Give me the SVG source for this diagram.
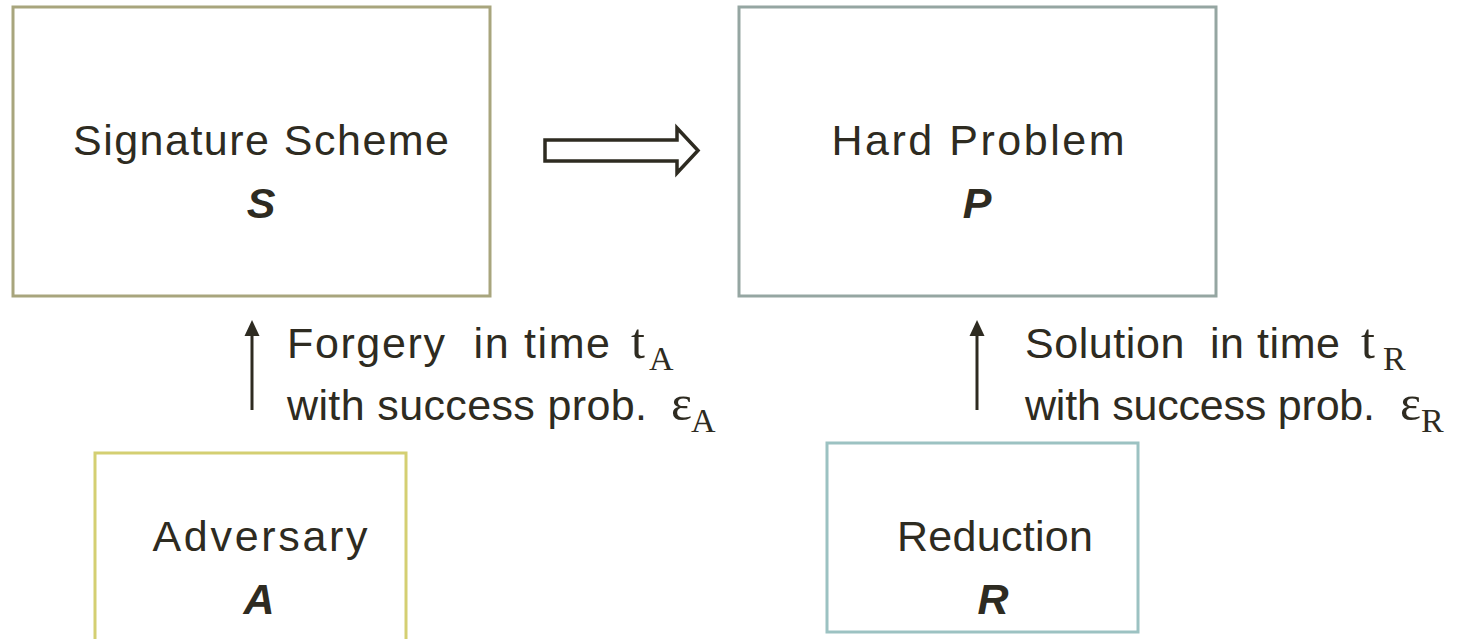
<svg xmlns="http://www.w3.org/2000/svg" width="1465" height="639" viewBox="0 0 1465 639">
  <style>
    .box { fill: #ffffff; stroke-width: 3; }
    .lbl { font-family: "Liberation Sans", Arial, sans-serif; font-size: 43px; fill: #2e2b21; text-anchor: middle; }
    .sym { font-family: "Liberation Sans", Arial, sans-serif; font-size: 43px; font-weight: bold; font-style: italic; fill: #2e2b21; text-anchor: middle; }
    .note { font-family: "Liberation Sans", Arial, sans-serif; font-size: 43px; fill: #2e2b21; }
    .math { font-family: "Liberation Serif", "Times New Roman", serif; font-size: 50px; fill: #2e2b21; }
    .sub { font-family: "Liberation Serif", "Times New Roman", serif; font-size: 34px; fill: #2e2b21; }
    .conn { stroke: #2e2b21; stroke-width: 3; fill: none; }
    .tip { fill: #2e2b21; }
  </style>
  <rect width="1465" height="639" fill="#ffffff"/>

  <g id="node-scheme">
    <rect class="box" x="13" y="7" width="477" height="289" stroke="#a8a57d"/>
    <text class="lbl" x="261" y="155" textLength="376">Signature Scheme</text>
    <text class="sym" x="261" y="218">S</text>
  </g>

  <g id="node-problem">
    <rect class="box" x="739" y="7" width="477" height="289" stroke="#95a6a2"/>
    <text class="lbl" x="978" y="155" textLength="293">Hard Problem</text>
    <text class="sym" x="977" y="218">P</text>
  </g>

  <g id="node-adversary">
    <rect class="box" x="95" y="453" width="311" height="200" stroke="#d4cf72"/>
    <text class="lbl" x="260" y="551" textLength="215">Adversary</text>
    <text class="sym" x="259" y="614">A</text>
  </g>

  <g id="node-reduction">
    <rect class="box" x="827" y="443" width="311" height="189" stroke="#9cc2c2"/>
    <text class="lbl" x="995" y="551" textLength="196">Reduction</text>
    <text class="sym" x="993" y="614">R</text>
  </g>

  <g id="connectors">
    <!-- implication arrow S => P -->
    <polygon points="545,140 677,140 677,128 698,150.5 677,173 677,161 545,161" fill="#ffffff" stroke="#2e2b21" stroke-width="3.5" stroke-linejoin="miter"/>
    <!-- adversary to scheme -->
    <line class="conn" x1="252" y1="410" x2="252" y2="332"/>
    <polygon class="tip" points="252,320 259.5,336 244.5,336"/>
    <!-- reduction to problem -->
    <line class="conn" x1="977" y1="410" x2="977" y2="332"/>
    <polygon class="tip" points="977,320 984.5,336 969.5,336"/>
  </g>

  <g id="label-forgery">
    <text class="note" x="287" y="358" textLength="323" xml:space="preserve">Forgery  in time</text>
    <text class="math" x="631" y="358">t</text>
    <text class="sub" x="649" y="370">A</text>
    <text class="note" x="287" y="420" textLength="360">with success prob.</text>
    <text class="math" x="671" y="420">ε</text>
    <text class="sub" x="691" y="432">A</text>
  </g>

  <g id="label-solution">
    <text class="note" x="1025" y="358" textLength="315" xml:space="preserve">Solution  in time</text>
    <text class="math" x="1361" y="358">t</text>
    <text class="sub" x="1383" y="370">R</text>
    <text class="note" x="1025" y="420" textLength="350">with success prob.</text>
    <text class="math" x="1400" y="420">ε</text>
    <text class="sub" x="1421" y="432">R</text>
  </g>
</svg>
